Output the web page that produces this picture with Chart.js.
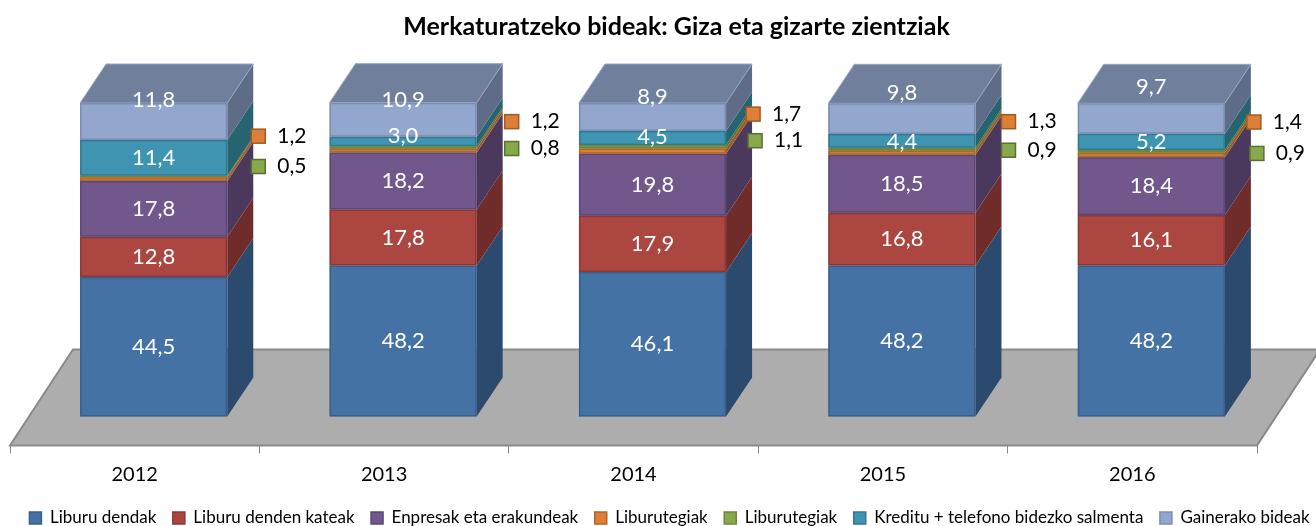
<!DOCTYPE html>
<html>
<head>
<meta charset="utf-8">
<style>
  html, body { margin:0; padding:0; background:#fff; }
  canvas { display:block; }
</style>
<script src="https://cdn.jsdelivr.net/npm/chart.js@4"></script>
</head>
<body>
<canvas id="chart" width="1316" height="526"></canvas>
<script>
// Merkaturatzeko bideak - 3D itxurako barra pilatuak

const YEARS = ['2012', '2013', '2014', '2015', '2016'];

const LIBURU_DENDAK = [44.5, 48.2, 46.1, 48.2, 48.2];
const DENDEN_KATEAK = [12.8, 17.8, 17.9, 16.8, 16.1];
const ENPRESAK = [17.8, 18.2, 19.8, 18.5, 18.4];
const LIBURUTEGIAK_A = [1.2, 1.2, 1.7, 1.3, 1.4];
const LIBURUTEGIAK_B = [0.5, 0.8, 1.1, 0.9, 0.9];
const KREDITU = [11.4, 3.0, 4.5, 4.4, 5.2];
const GAINERAKO = [11.8, 10.9, 8.9, 9.8, 9.7];

const FONT = 'Lato';

// front, side, border
const STYLES = [
  { front:'#4472A5', side:'#2C4A6E', line:'#38608F' },
  { front:'#AB4641', side:'#6F2C2A', line:'#8C3836' },
  { front:'#72578D', side:'#4A385D', line:'#5C4776' },
  { front:'#DD7F37', side:'#A25A22', line:'#B0652A' },
  { front:'#88A84C', side:'#5A7032', line:'#6C873A' },
  { front:'#3F95B1', side:'#276472', line:'#327A90' },
  { front:'#92A6CE', side:'#5F6C87', line:'#7A8DB3' },
];

const DEPTH = { x:26, y:-39 };      // bar depth
const FLOOR = { x:63, y:-96 };      // floor depth
const STAND = { x:19, y:-29 };      // where the bars stand on the floor

// labels moved by hand in the original, pixels from the segment middle
const KREDITU_NUDGE = [0, -6, -1, 1, 0];
const GAINERAKO_NUDGE = [-22, -20, -20, -26, -32];
// outside labels of the two thin series, from the back edge of the segment
const CALLOUT_A = [[5, -4], [9, 10], [1, 2], [7, 8], [3, 6]];
const CALLOUT_B = [[5, 29], [9, 40], [3, 33], [7, 40], [6, 41]];

function comma(v) {
  return v.toFixed(1).replace('.', ',');
}

function poly(ctx, pts, fill, stroke, width) {
  ctx.beginPath();
  pts.forEach((p, i) => i ? ctx.lineTo(p[0], p[1]) : ctx.moveTo(p[0], p[1]));
  ctx.closePath();
  ctx.fillStyle = fill;
  ctx.fill();
  if (stroke) {
    ctx.strokeStyle = stroke;
    ctx.lineWidth = width;
    ctx.stroke();
  }
}

const floorPlugin = {
  id: 'floor',
  // title and legend are not centred on the canvas in the original
  afterLayout(chart) {
    chart.titleBlock.left += 18.5;
    chart.titleBlock.right += 18.5;
    chart.legend.left += 11.5;
    chart.legend.right += 11.5;
    chart.legend.top += 2.5;
    chart.legend.bottom += 2.5;
  },
  beforeDraw(chart) {
    const a = chart.chartArea, ctx = chart.ctx;
    poly(ctx, [
      [a.left, a.bottom], [a.right, a.bottom],
      [a.right + FLOOR.x, a.bottom + FLOOR.y], [a.left + FLOOR.x, a.bottom + FLOOR.y],
    ], '#ADADAD', '#8A8A8A', 2);
  }
};

const depthPlugin = {
  id: 'depth',
  beforeDatasetsDraw(chart) {
    const ctx = chart.ctx;
    ctx.save();
    ctx.translate(STAND.x, STAND.y);
    chart.data.datasets.forEach((ds, d) => {
      const st = STYLES[d];
      const last = d === chart.data.datasets.length - 1;
      chart.getDatasetMeta(d).data.forEach(bar => {
        const r = bar.x + bar.width / 2, l = bar.x - bar.width / 2;
        poly(ctx, [
          [r, bar.y], [r + DEPTH.x, bar.y + DEPTH.y],
          [r + DEPTH.x, bar.base + DEPTH.y], [r, bar.base],
        ], st.side, null);
        // backing so no white shows between the segments
        poly(ctx, [[l, bar.y], [r, bar.y], [r, bar.base], [l, bar.base]], st.line, null);
        if (last) {
          poly(ctx, [
            [l, bar.y], [l + DEPTH.x, bar.y + DEPTH.y],
            [r + DEPTH.x, bar.y + DEPTH.y], [r, bar.y],
          ], '#6F7F9C', '#97A6C4', 1);
        }
      });
    });
  },
  afterDatasetsDraw(chart) {
    const ctx = chart.ctx;
    ctx.restore();
    ctx.save();
    ctx.textBaseline = 'middle';
    chart.data.datasets.forEach((ds, d) => {
      chart.getDatasetMeta(d).data.forEach((bar, i) => {
        const mid = (bar.y + bar.base) / 2 + STAND.y;
        if (d === 3 || d === 4) {
          const nudge = (d === 3 ? CALLOUT_A : CALLOUT_B)[i];
          const cx = bar.x + STAND.x + bar.width / 2 + DEPTH.x + nudge[0];
          const cy = mid + DEPTH.y + nudge[1];
          ctx.fillStyle = STYLES[d].front;
          ctx.strokeStyle = STYLES[d].side;
          ctx.lineWidth = 1.5;
          ctx.fillRect(cx - 7, cy - 7, 14, 14);
          ctx.strokeRect(cx - 7, cy - 7, 14, 14);
          ctx.fillStyle = '#000';
          ctx.textAlign = 'left';
          ctx.font = '21px ' + FONT;
          ctx.fillText(comma(ds.data[i]), cx + 19, cy);
        } else {
          let y = mid;
          if (d === 5) y += KREDITU_NUDGE[i];
          if (d === 6) y += GAINERAKO_NUDGE[i];
          ctx.fillStyle = '#fff';
          ctx.textAlign = 'center';
          ctx.font = '22px ' + FONT;
          ctx.fillText(comma(ds.data[i]), bar.x + STAND.x, y);
        }
      });
    });
    ctx.restore();
  }
};

function series(label, data, i) {
  return {
    label, data,
    backgroundColor: STYLES[i].front,
    borderColor: STYLES[i].line,
    borderWidth: 1.5,
    borderSkipped: false,
    clip: false,
  };
}

// empty side axes keep the plot off the canvas edges and leave the legend the full width
function spacer(position, width) {
  return {
    position,
    border: { display:false },
    grid: { display:false },
    ticks: { display:false },
    afterFit(scale) { scale.width = width; },
  };
}

new Chart(document.getElementById('chart'), {
  type: 'bar',
  data: {
    labels: YEARS,
    datasets: [
      series('Liburu dendak', LIBURU_DENDAK, 0),
      series('Liburu denden kateak', DENDEN_KATEAK, 1),
      series('Enpresak eta erakundeak', ENPRESAK, 2),
      series('Liburutegiak', LIBURUTEGIAK_A, 3),
      series('Liburutegiak', LIBURUTEGIAK_B, 4),
      series('Kreditu + telefono bidezko salmenta', KREDITU, 5),
      series('Gainerako bideak', GAINERAKO, 6),
    ]
  },
  plugins: [floorPlugin, depthPlugin],
  options: {
    responsive: false,
    animation: false,
    layout: { padding: { bottom:-8 } },
    datasets: { bar: { categoryPercentage:1, barPercentage:0.59 } },
    plugins: {
      tooltip: { enabled:false },
      title: {
        display: true,
        text: 'Merkaturatzeko bideak: Giza eta gizarte zientziak',
        color: '#000',
        font: { family:FONT, size:25, weight:'bold' },
        padding: { top:12, bottom:90 },
      },
      legend: {
        position: 'bottom',
        labels: {
          color: '#000',
          font: { family:FONT, size:17 },
          boxWidth: 12, boxHeight: 12,
          padding: 16.5,
        }
      }
    },
    scales: {
      x: {
        stacked: true,
        border: { display:false },
        grid: { drawOnChartArea:false, color:'#888', tickLength:8 },
        ticks: { color:'#000', font:{ family:FONT, size:20 }, padding:9 },
        afterFit(scale) { scale.height = 45; },
      },
      y: { ...spacer('left', 10), stacked:true, min:0, max:100 },
      yRight: spacer('right', 59),
    }
  }
});
</script>
</body>
</html>
